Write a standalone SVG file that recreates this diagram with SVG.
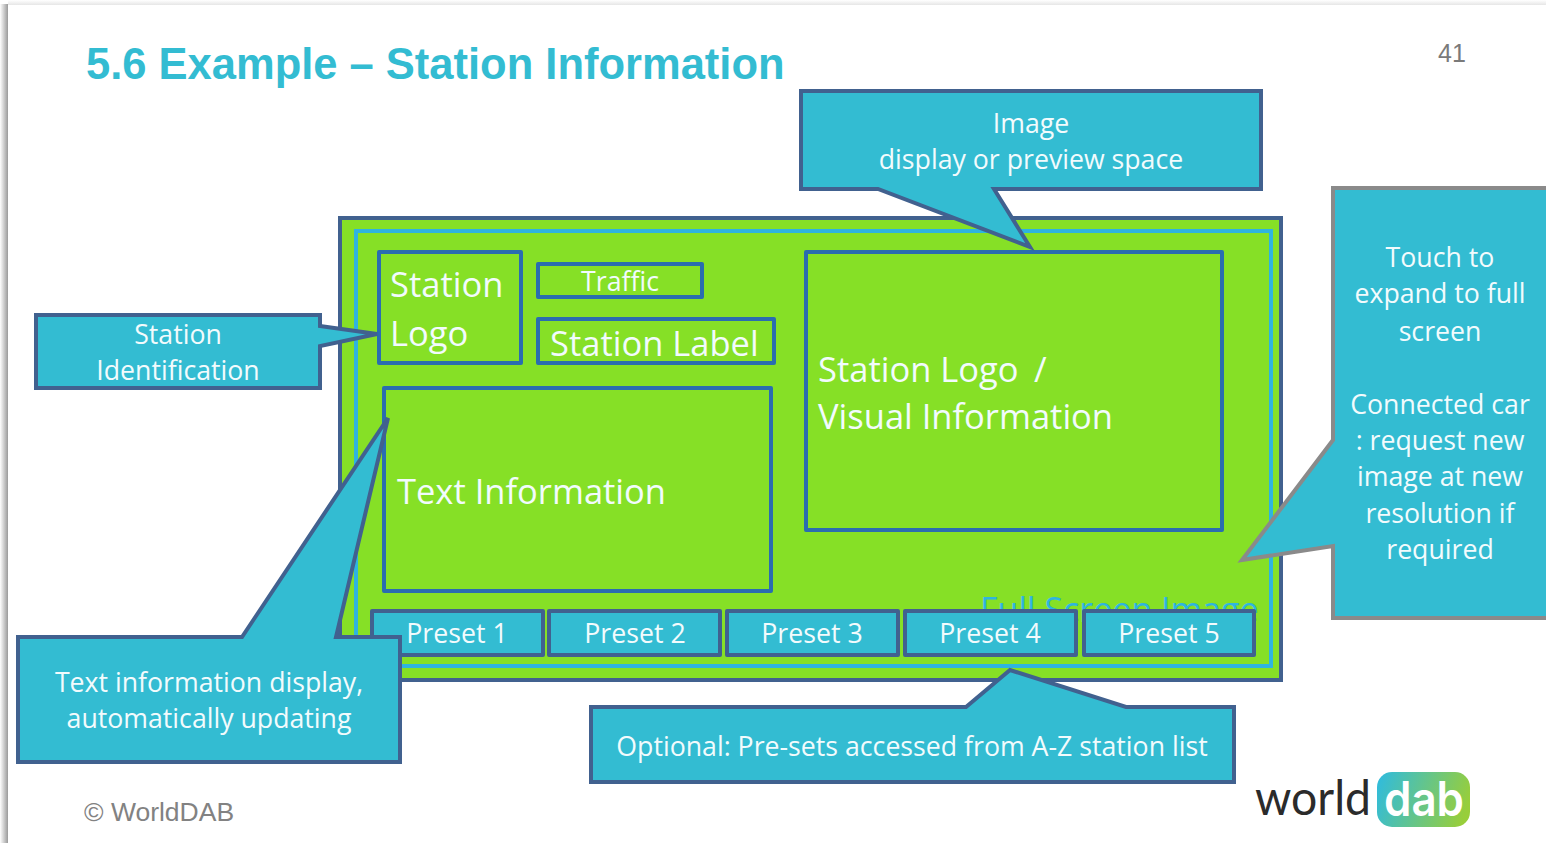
<svg xmlns="http://www.w3.org/2000/svg" width="1546" height="843" viewBox="0 0 1546 843">
<style>
text{font-family:"Open Sans","DejaVu Sans",sans-serif;fill:#f2fbfd}
.c{text-anchor:middle}
.s27{font-size:26.700px}.s35{font-size:34.500px}
.call{fill:#33bcd2;stroke:#41618f;stroke-width:4;stroke-linejoin:miter}
.box{fill:#86e026;stroke:#2a6db0;stroke-width:4;stroke-linejoin:round}
.preset{fill:#33bcd2;stroke:#41618f;stroke-width:4;stroke-linejoin:round}
</style>
<defs>
<linearGradient id="shadow" x1="0" x2="1" y1="0" y2="0"><stop offset="0" stop-color="#fff"/><stop offset="1" stop-color="#9a9a9a"/></linearGradient>
<linearGradient id="shadowTop" x1="0" x2="0" y1="0" y2="1"><stop offset="0" stop-color="#fff"/><stop offset="1" stop-color="#e6e6e6"/></linearGradient>
<linearGradient id="dabGrad" x1="0" x2="1" y1="0.3" y2="0.5"><stop offset="0" stop-color="#33bcd8"/><stop offset="1" stop-color="#98ce3a"/></linearGradient>
</defs>
<rect width="1546" height="843" fill="#fff"/>
<rect x="0" y="4" width="8" height="839" fill="url(#shadow)"/>
<rect x="8" y="0" width="1538" height="5" fill="url(#shadowTop)"/>
<text id="title" x="86" y="79" style="font-family:'Liberation Sans',Arial,sans-serif;font-weight:700;font-size:43.500px;fill:#33bcd2">5.6 Example – Station Information</text>
<text id="page" x="1438" y="62" style="font-family:'Liberation Sans',Arial,sans-serif;font-size:25px;fill:#7a7a7a">41</text>
<g id="screen">
<rect x="340" y="218" width="941" height="462" fill="#86e026" stroke="#41618f" stroke-width="4"/>
<rect x="356" y="231" width="915" height="435" fill="none" stroke="#2fb4e0" stroke-width="4"/>
<text x="980" y="622" style="font-size:34px;fill:#2fb4e0">Full Screen Image</text>
</g>
<g id="station-logo"><rect class="box" x="379" y="252" width="142" height="111"/>
<text x="390" y="297" class="s35">Station</text><text x="390" y="346" class="s35">Logo</text></g>
<g id="traffic"><rect class="box" x="538" y="264" width="164" height="33"/><text x="620" y="291" class="c s27">Traffic</text></g>
<g id="station-label"><rect class="box" x="538" y="319" width="236" height="44"/><text x="550" y="356" class="s35">Station Label</text></g>
<g id="visual-info"><rect class="box" x="806" y="252" width="416" height="278"/>
<text x="818" y="382" class="s35">Station Logo <tspan x="1034">/</tspan></text><text x="818" y="429" class="s35">Visual Information</text></g>
<g id="text-info"><rect class="box" x="384" y="388" width="387" height="203"/><text x="397" y="504" class="s35">Text Information</text></g>
<g id="preset-1"><rect class="preset" x="372" y="611" width="171" height="44"/><text x="457" y="643" class="c s27">Preset 1</text></g>
<g id="preset-2"><rect class="preset" x="549" y="611" width="171" height="44"/><text x="635" y="643" class="c s27">Preset 2</text></g>
<g id="preset-3"><rect class="preset" x="727" y="611" width="171" height="44"/><text x="812" y="643" class="c s27">Preset 3</text></g>
<g id="preset-4"><rect class="preset" x="905" y="611" width="171" height="44"/><text x="990" y="643" class="c s27">Preset 4</text></g>
<g id="preset-5"><rect class="preset" x="1084" y="611" width="170" height="44"/><text x="1169" y="643" class="c s27">Preset 5</text></g>
<g id="callout-image"><path class="call" d="M801 91H1261V189H994L1030 247L878 189H801Z"/>
<text x="1031" y="133" class="c s27">Image</text><text x="1031" y="169" class="c s27">display or preview space</text></g>
<g id="callout-station"><path class="call" d="M36 315H320V326L377 334L320 346V388H36Z"/>
<text x="178" y="344" class="c s27">Station</text><text x="178" y="380" class="c s27">Identification</text></g>
<g id="callout-text"><path class="call" d="M18 637H242L388 418L336 637H400V762H18Z"/>
<text x="209" y="692" class="c s27">Text information display,</text><text x="209" y="728" class="c s27">automatically updating</text></g>
<g id="callout-presets"><path class="call" d="M591 707H966L1010 670L1126 707H1234V782H591Z"/>
<text x="912" y="756" class="c s27">Optional: Pre-sets accessed from A-Z station list</text></g>
<g id="callout-touch"><path class="call" style="stroke:#8a8a8a" d="M1560 188H1333V440L1242 560L1333 546V618H1560Z"/>
<text x="1440" y="267" class="c s27">Touch to</text><text x="1440" y="303" class="c s27">expand to full</text><text x="1440" y="341" class="c s27">screen</text>
<text x="1440" y="414" class="c s27">Connected car</text><text x="1440" y="450" class="c s27">: request new</text><text x="1440" y="486" class="c s27">image at new</text><text x="1440" y="523" class="c s27">resolution if</text><text x="1440" y="559" class="c s27">required</text></g>
<text id="copyright" x="84" y="821" style="font-family:'Liberation Sans',Arial,sans-serif;font-size:26.500px;fill:#828282">© WorldDAB</text>
<g id="logo">
<text x="1255" y="815" textLength="116" lengthAdjust="spacingAndGlyphs" style="font-family:Lato,sans-serif;font-weight:400;font-size:48px;fill:#2b2b2b">world</text>
<rect x="1377" y="772" width="93" height="55" rx="15" fill="url(#dabGrad)"/>
<text x="1384" y="816" textLength="80" lengthAdjust="spacingAndGlyphs" style="font-family:Inter,sans-serif;font-weight:600;font-size:48px;fill:#fff">dab</text>
</g>
</svg>
